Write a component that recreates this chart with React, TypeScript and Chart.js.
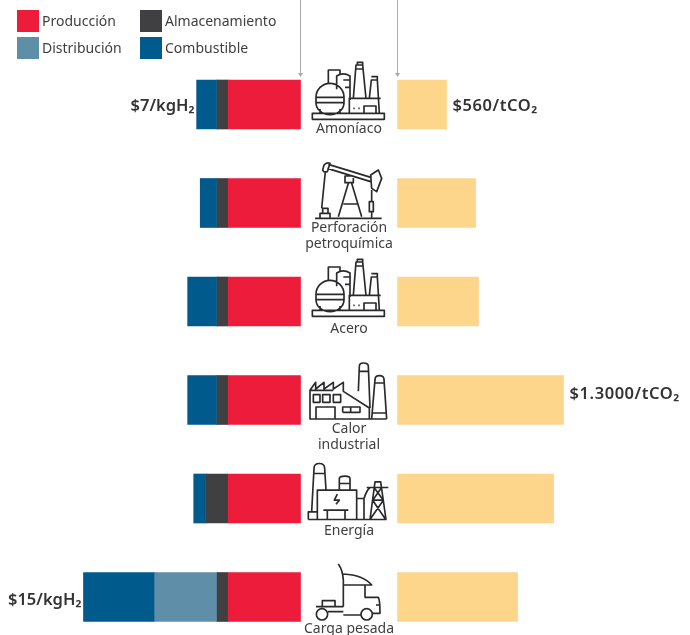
import React, { useEffect, useRef } from "react";
import { Chart, registerables } from "chart.js";

Chart.register(...registerables);

const categories = ["Amoníaco", "Perforación petroquímica", "Acero", "Calor industrial", "Energía", "Carga pesada"];
const categoryLines = [["Amoníaco"], ["Perforación", "petroquímica"], ["Acero"], ["Calor", "industrial"], ["Energía"], ["Carga pesada"]];

// US$/kgH2 (left panel)
const produccion = [5.0, 5.0, 5.0, 5.0, 5.0, 5.0];
const almacenamiento = [0.76, 0.76, 0.76, 0.76, 1.52, 0.76];
const distribucion = [0, 0, 0, 0, 0, 4.32];
const combustible = [1.42, 1.17, 2.04, 2.04, 0.86, 4.92];

// US$/tCO2 (right panel)
const costoCO2 = [384, 611, 634, 1300, 1222, 940];

const leftLabels: (string | null)[] = ["$7/kgH₂", null, null, null, null, "$15/kgH₂"];
const rightLabels: (string | null)[] = ["$560/tCO₂", null, null, "$1.3000/tCO₂", null, null];

const COLORS = {
  produccion: "#ed1c3a",
  almacenamiento: "#404042",
  distribucion: "#5f8fa8",
  combustible: "#005a8c",
  co2: "#fdd68c",
};

const FONT = '"Noto Sans"';
const TEXT = "#3f3f41";

// Icon outlines (pure decoration), in a local 3x coordinate space.
const ammonia = {
  cy: 313.5,
  d: `M937 340H1153V358H937Z M960 340V327 M1020 340V327 M948 292H1032 M948 308H1032 M948 292A42 42 0 0 1 1032 292 M948 292V308
  M1032 292V308 M948 308A42 36 0 0 0 1032 308 M985 250V210H1020V222 M1010 268V228Q1030 215 1050 228V300 M1030 240H1050 M1035 262H1050
  M1060 295L1068 195H1088L1098 295 M1068 207H1088 M1072 195V187H1088V195 M1108 295L1114 240H1132L1138 340 M1114 230H1132V240 M1048 340V295H1142
  M1060 325h4 M1075 325h4 M1092 340V318H1128V340`,
};
const pump = {
  cy: 609,
  d: `M985 493L1115 533 M982 505L1112 545 M972 495Q980 485 990 490L982 515Q970 518 968 510Z M1112 525L1135 510L1145 535L1130 575L1115 565Z
  M976 515L965 625 M1045 550L1015 650 M1055 550L1085 650 M1035 528H1060V548H1035Z M1030 612H1075 M945 655H1145
  M960 655V640H990V655 M968 640V625H984V640 M1115 570V605 M1108 605H1120V635H1108Z M1115 635V655`,
};
const factory = {
  cy: 151,
  d: `M930 208V122L947 98V118L972 98V118L1000 98V118L1030 98V125L1108 175V208 M928 208H1160
  M940 135H960V158H940Z M968 135H990V158H968Z M1000 135H1022V158H1000Z M948 208V172H1005V208 M1028 188V172H1080V188H1028 M1052 172V188
  M1075 125L1078 50Q1078 40 1090 40Q1105 40 1105 50L1110 175 M1078 65H1105
  M1115 208L1125 90Q1125 78 1138 78Q1152 78 1152 90L1160 208 M1125 100H1152 M1118 190H1158 M930 122H1000`,
};
const power = {
  cy: 445,
  d: `M935 485L942 355Q942 340 958 340Q974 340 974 355L978 420 M942 370H974 M952 508V420H1070V508 M925 508H1160 M925 508V485H952
  M1018 420V385Q1018 378 1035 378Q1050 378 1050 385V420 M1018 400H1050 M1012 432L1003 450H1018L1008 462
  M970 480H1045 M982 480V508 M1035 480V508 M1070 445H1092V508 M1092 445Q1100 420 1110 412
  M1110 508L1125 395H1142L1158 508 M1118 450H1150L1112 505 M1118 450L1155 505 M1122 412H1145L1118 450 M1122 412L1150 450 M1100 412H1165`,
};
const truck = {
  cy: 741,
  d: `M1015 642Q1028 660 1030 690V770 M1030 672Q1090 675 1115 705H1030 M1095 705V742H1135Q1140 750 1140 790H1117
  M1030 795H1083 M1083 793A17 17 0 1 0 1117 793A17 17 0 1 0 1083 793 M949 793A17 17 0 1 0 983 793A17 17 0 1 0 949 793
  M948 770H1030 M984 785H1030 M967 770V752H1005V770 M1128 765H1140`,
};
const icons = [ammonia, pump, ammonia, factory, power, truck];
const labelOffsets = [24.5, 25.5, 28, 29.5, 32.5, 32];
const rightLabelShift = [2, 0, 0, -6, 0, 0];
const leftLabelShift = [2, 0, 0, 0, 0, 3];

const legendEntries = [
  { label: "Producción", color: COLORS.produccion, x: 17, y: 10 },
  { label: "Distribución", color: COLORS.distribucion, x: 17, y: 37 },
  { label: "Almacenamiento", color: COLORS.almacenamiento, x: 140, y: 10 },
  { label: "Combustible", color: COLORS.combustible, x: 140, y: 37 },
];

const decorations = {
  id: "decorations",
  afterDatasetsDraw(chart: any) {
    const { ctx, scales } = chart;
    const { x, x2, y } = scales;
    ctx.save();

    // guide arrows dropping to each panel's zero line
    ctx.strokeStyle = "#a9a9a9";
    ctx.fillStyle = "#a9a9a9";
    ctx.lineWidth = 1;
    [x.getPixelForValue(0), x2.getPixelForValue(0)].forEach((px: number) => {
      ctx.beginPath();
      ctx.moveTo(px, 0);
      ctx.lineTo(px, 74);
      ctx.stroke();
      ctx.beginPath();
      ctx.moveTo(px - 2.5, 73);
      ctx.lineTo(px + 2.5, 73);
      ctx.lineTo(px, 77);
      ctx.closePath();
      ctx.fill();
    });

    // legend
    ctx.textBaseline = "middle";
    ctx.textAlign = "left";
    ctx.font = `14px ${FONT}`;
    legendEntries.forEach((e) => {
      ctx.fillStyle = e.color;
      ctx.fillRect(e.x, e.y, 22, 22);
      ctx.fillStyle = TEXT;
      ctx.fillText(e.label, e.x + 25, e.y + 12);
    });

    categories.forEach((_, i) => {
      const cy = y.getPixelForValue(i);

      // icon
      const ic = icons[i];
      ctx.save();
      ctx.translate(0, cy);
      ctx.scale(1 / 3, 1 / 3);
      ctx.translate(0, -ic.cy);
      ctx.strokeStyle = "#2a2a2c";
      ctx.lineWidth = 5;
      ctx.lineJoin = "round";
      ctx.stroke(new Path2D(ic.d));
      ctx.restore();

      // category name
      ctx.fillStyle = TEXT;
      ctx.textAlign = "center";
      ctx.font = `14px ${FONT}`;
      categoryLines[i].forEach((line, k) => {
        ctx.fillText(line, 349, cy + labelOffsets[i] + k * 16);
      });

      // value labels
      ctx.font = `600 16.5px ${FONT}`;
      ctx.fillStyle = "#333335";
      const left = leftLabels[i];
      if (left) {
        const total = produccion[i] + almacenamiento[i] + distribucion[i] + combustible[i];
        ctx.textAlign = "right";
        ctx.fillText(left, x.getPixelForValue(total) - 2, cy + leftLabelShift[i]);
      }
      const right = rightLabels[i];
      if (right) {
        ctx.textAlign = "left";
        (ctx as any).letterSpacing = "0.55px";
        ctx.fillText(right, x2.getPixelForValue(costoCO2[i]) + 6, cy + rightLabelShift[i]);
        (ctx as any).letterSpacing = "0px";
      }
    });
    ctx.restore();
  },
};

export default function App() {
  const ref = useRef<HTMLCanvasElement>(null);

  useEffect(() => {
    const bar = (label: string, data: number[], color: string, axis: string) => ({
      label,
      data,
      backgroundColor: color,
      xAxisID: axis,
      stack: "fila",
      barThickness: 49,
      borderWidth: 0,
      clip: false as const,
    });
    const chart = new Chart(ref.current!, {
      type: "bar",
      data: {
        labels: categories,
        datasets: [
          bar("Producción", produccion, COLORS.produccion, "x"),
          bar("Almacenamiento", almacenamiento, COLORS.almacenamiento, "x"),
          bar("Distribución", distribucion, COLORS.distribucion, "x"),
          bar("Combustible", combustible, COLORS.combustible, "x"),
          bar("Costo por tCO2", costoCO2, COLORS.co2, "x2"),
        ] as any,
      },
      options: {
        indexAxis: "y",
        animation: false,
        responsive: false,
        devicePixelRatio: 1,
        layout: { padding: { top: 104.5, bottom: 38, left: 0, right: 0 } },
        plugins: { legend: { display: false }, tooltip: { enabled: false } },
        scales: {
          x: { type: "linear", reverse: true, stacked: true, min: -26.92, max: 20.77, display: false },
          x2: { type: "linear", stacked: true, min: -3113, max: 2290, display: false },
          y: { type: "category", offset: false, stacked: true, display: false },
        },
      } as any,
      plugins: [decorations],
    });
    return () => chart.destroy();
  }, []);

  return (
    <div style={{ position: "fixed", left: 0, top: 0, width: 690, height: 635, background: "#fff", overflow: "hidden" }}>
      <canvas ref={ref} width={690} height={635} style={{ display: "block" }} />
    </div>
  );
}
